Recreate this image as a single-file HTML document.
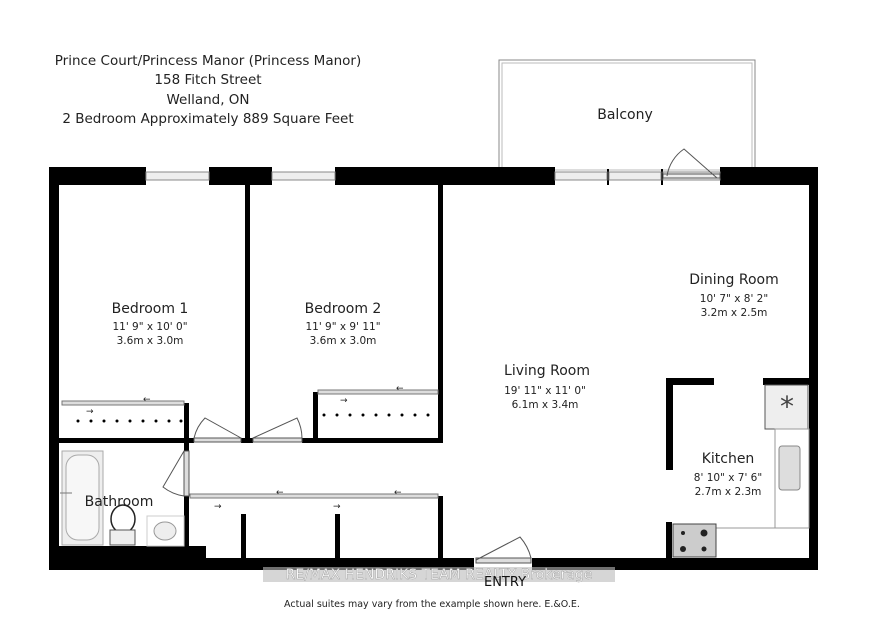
<!DOCTYPE html>
<html><head><meta charset="utf-8"><style>
html,body{margin:0;padding:0;background:#fff;}
svg{display:block;font-family:"DejaVu Sans","Liberation Sans",sans-serif;}
</style></head><body>
<svg width="877" height="632" viewBox="0 0 877 632" xmlns="http://www.w3.org/2000/svg">
<rect width="877" height="632" fill="#fff"/>
<g font-size="13.5" fill="#222" text-anchor="middle">
<text x="208" y="65">Prince Court/Princess Manor (Princess Manor)</text>
<text x="208" y="84">158 Fitch Street</text>
<text x="208" y="104">Welland, ON</text>
<text x="208" y="123">2 Bedroom Approximately 889 Square Feet</text>
</g>
<!-- balcony -->
<rect x="499" y="60" width="256" height="110" fill="none" stroke="#888" stroke-width="1"/>
<rect x="502" y="63" width="250" height="107" fill="none" stroke="#bbb" stroke-width="1"/>
<text x="625" y="119" font-size="14" text-anchor="middle" fill="#222">Balcony</text>
<!-- walls -->
<g fill="#000">
<rect x="49" y="167" width="97" height="18"/>
<rect x="209" y="167" width="63" height="18"/>
<rect x="335" y="167" width="220" height="18"/>
<rect x="720" y="167" width="98" height="18"/>
<rect x="49" y="167" width="10" height="403"/>
<rect x="809" y="167" width="9" height="403"/>
<rect x="49" y="558" width="425" height="12"/>
<rect x="532" y="558" width="286" height="12"/>
<rect x="49" y="546" width="157" height="14"/>
<rect x="245" y="185" width="5" height="258"/>
<rect x="438" y="185" width="5" height="258"/>
<rect x="58" y="438" width="136" height="5"/>
<rect x="241" y="438" width="12" height="5"/>
<rect x="302" y="438" width="141" height="5"/>
<rect x="184" y="403" width="5" height="40"/>
<rect x="313" y="392" width="5" height="50"/>
<rect x="184" y="443" width="5" height="8"/>
<rect x="184" y="496" width="5" height="52"/>
<rect x="438" y="496" width="5" height="62"/>
<rect x="241" y="514" width="5" height="44"/>
<rect x="335" y="514" width="5" height="44"/>
<rect x="666" y="378" width="48" height="7"/>
<rect x="666" y="378" width="7" height="92"/>
<rect x="763" y="378" width="46" height="7"/>
<rect x="666" y="522" width="6" height="36"/>
<rect x="607" y="169" width="2" height="16"/>
<rect x="661" y="169" width="2" height="16"/>
</g>
<!-- windows -->
<g fill="#eee" stroke="#888" stroke-width="1">
<rect x="146" y="172" width="63" height="8"/>
<rect x="272" y="172" width="63" height="8"/>
<rect x="555" y="172" width="52" height="8"/>
<rect x="609" y="172" width="52" height="8"/>
<rect x="663" y="172" width="57" height="8"/>
</g>
<!-- closets -->
<g stroke="#777" fill="#ddd" stroke-width="1">
<rect x="62" y="401" width="122" height="4"/>
<rect x="318" y="390" width="120" height="4"/>
<rect x="190" y="494" width="248" height="4"/>
</g>
<g fill="#000">
<text x="0" y="0" font-size="1"> </text>
</g>
<g fill="#000">
<circle cx="78" cy="421" r="1.5"/><circle cx="91" cy="421" r="1.5"/><circle cx="104" cy="421" r="1.5"/><circle cx="117" cy="421" r="1.5"/><circle cx="130" cy="421" r="1.5"/><circle cx="143" cy="421" r="1.5"/><circle cx="156" cy="421" r="1.5"/><circle cx="169" cy="421" r="1.5"/><circle cx="181" cy="421" r="1.5"/>
<circle cx="324" cy="415" r="1.5"/><circle cx="337" cy="415" r="1.5"/><circle cx="350" cy="415" r="1.5"/><circle cx="363" cy="415" r="1.5"/><circle cx="376" cy="415" r="1.5"/><circle cx="389" cy="415" r="1.5"/><circle cx="402" cy="415" r="1.5"/><circle cx="415" cy="415" r="1.5"/><circle cx="428" cy="415" r="1.5"/>
</g>
<g font-size="9" fill="#222">
<text x="143" y="402">←</text><text x="86" y="414">→</text>
<text x="396" y="391">←</text><text x="340" y="403">→</text>
<text x="276" y="495">←</text><text x="214" y="509">→</text>
<text x="394" y="495">←</text><text x="333" y="509">→</text>
</g>
<!-- doors -->
<g fill="none" stroke="#555" stroke-width="1">
<rect x="194" y="438" width="47" height="4" fill="#ddd"/>
<path d="M241 438 L205 418 A42 42 0 0 0 194 438"/>
<rect x="253" y="438" width="49" height="4" fill="#ddd"/>
<path d="M253 438 L297 418 A45 45 0 0 1 302 438"/>
<rect x="184" y="451" width="5" height="45" fill="#ddd"/>
<path d="M184 451 L163 487 A44 44 0 0 0 184 496"/>
<rect x="476" y="558" width="55" height="5" fill="#ddd"/>
<path d="M476 560 L520 537 A50 50 0 0 1 531 558"/>
<rect x="663" y="174" width="57" height="4" fill="#eee"/>
<path d="M717 178 L684 149 A40 40 0 0 0 667 176"/>
</g>
<!-- bathroom fixtures -->
<rect x="62" y="451" width="41" height="94" fill="#eee" stroke="#aaa"/>
<rect x="66" y="455" width="33" height="85" rx="12" fill="#f7f7f7" stroke="#aaa"/>
<path d="M60 493 H72" stroke="#777"/>
<ellipse cx="123" cy="519" rx="12" ry="14" fill="#fff" stroke="#222" stroke-width="1.5"/>
<rect x="110" y="530" width="25" height="15" fill="#eee" stroke="#555"/>
<rect x="147" y="516" width="37" height="30" fill="#fff" stroke="#ccc"/>
<ellipse cx="165" cy="531" rx="11" ry="9" fill="#eee" stroke="#999"/>
<!-- kitchen -->
<rect x="765" y="385" width="43" height="44" fill="#eee" stroke="#555"/>
<text x="787" y="416" font-size="28" text-anchor="middle" fill="#444">*</text>
<rect x="775" y="429" width="34" height="99" fill="#fff" stroke="#999"/>
<rect x="779" y="446" width="21" height="44" rx="3" fill="#ddd" stroke="#888"/>
<path d="M716 528 H775" stroke="#999"/>
<rect x="673" y="524" width="43" height="33" fill="#ccc" stroke="#444"/>
<g fill="#222"><circle cx="683" cy="533" r="2"/><circle cx="704" cy="533" r="3.5"/><circle cx="683" cy="549" r="3"/><circle cx="704" cy="549" r="2.5"/></g>
<!-- labels -->
<g text-anchor="middle" fill="#222">
<text x="150" y="313" font-size="14">Bedroom 1</text>
<text x="150" y="330" font-size="10.5">11' 9" x 10' 0"</text>
<text x="150" y="344" font-size="10.5">3.6m x 3.0m</text>
<text x="343" y="313" font-size="14">Bedroom 2</text>
<text x="343" y="330" font-size="10.5">11' 9" x 9' 11"</text>
<text x="343" y="344" font-size="10.5">3.6m x 3.0m</text>
<text x="547" y="375" font-size="14">Living Room</text>
<text x="545" y="394" font-size="10.5">19' 11" x 11' 0"</text>
<text x="545" y="408" font-size="10.5">6.1m x 3.4m</text>
<text x="734" y="284" font-size="14">Dining Room</text>
<text x="734" y="302" font-size="10.5">10' 7" x 8' 2"</text>
<text x="734" y="316" font-size="10.5">3.2m x 2.5m</text>
<text x="728" y="463" font-size="14">Kitchen</text>
<text x="728" y="481" font-size="10.5">8' 10" x 7' 6"</text>
<text x="728" y="495" font-size="10.5">2.7m x 2.3m</text>
<text x="119" y="506" font-size="14">Bathroom</text>
</g>
<rect x="263" y="567" width="352" height="15" fill="#bbb" opacity="0.6"/>
<text x="439" y="579" font-size="14" text-anchor="middle" fill="#fff" stroke="#999" stroke-width="0.4">RE/MAX  HENDRIKS TEAM REALTY  Brokerage</text>
<text x="505" y="586" font-size="13" text-anchor="middle" fill="#111">ENTRY</text>
<text x="432" y="607" font-size="9.5" text-anchor="middle" fill="#222">Actual suites may vary from the example shown here. E.&amp;O.E.</text>
</svg>
</body></html>
